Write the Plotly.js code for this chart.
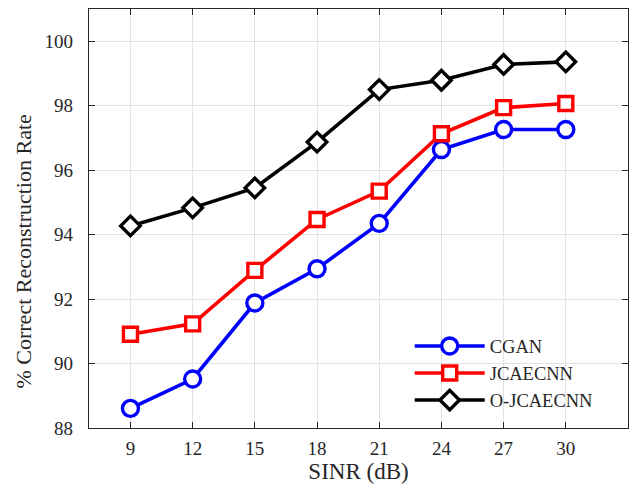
<!DOCTYPE html>
<html><head><meta charset="utf-8">
<script src="https://cdn.plot.ly/plotly-3.0.1.min.js"></script>
<style>body{margin:0;background:#fff}#c{width:634px;height:487px}</style>
</head><body><div id="c"></div>
<script>
const sinr = [9, 12, 15, 18, 21, 24, 27, 30];
const cgan = [88.61, 89.52, 91.88, 92.94, 94.35, 96.64, 97.26, 97.26];
const jcaecnn = [90.91, 91.23, 92.89, 94.47, 95.35, 97.13, 97.94, 98.07];
const ojcaecnn = [94.27, 94.83, 95.45, 96.87, 98.50, 98.79, 99.28, 99.36];
const seriesNames = ['CGAN', 'JCAECNN', 'O-JCAECNN'];
const xTicks = [9, 12, 15, 18, 21, 24, 27, 30];
const yTicks = [88, 90, 92, 94, 96, 98, 100];

const font = "Liberation Serif";
function tr(y, name, color, symbol, size) {
  return {x: sinr, y: y, name: name, type: 'scatter', mode: 'lines+markers',
    line: {color: color, width: 3.6},
    marker: {symbol: symbol, size: size, color: '#ffffff', line: {color: color, width: 3.4}}};
}
const data = [
  tr(cgan, seriesNames[0], '#0000ff', 'circle', 16),
  tr(jcaecnn, seriesNames[1], '#ff0000', 'square', 14),
  tr(ojcaecnn, seriesNames[2], '#000000', 'diamond', 15)
];
const axisCommon = {showline: true, linecolor: '#262626', linewidth: 1.2, mirror: 'ticks',
  ticks: 'inside', ticklen: 6, tickcolor: '#262626', showgrid: true, gridcolor: '#e3e3e3', gridwidth: 1,
  zeroline: false, tickfont: {family: font, size: 19, color: '#262626'}};
const layout = {
  width: 634, height: 487, paper_bgcolor: '#fff', plot_bgcolor: '#fff',
  font: {family: font},
  margin: {l: 89, r: 6, t: 9, b: 59},
  showlegend: true,
  legend: {x: 0.595, y: 0.24, xanchor: 'left', yanchor: 'top', bgcolor: 'rgba(255,255,255,0)',
    font: {family: font, size: 18.5, color: '#262626'}, itemwidth: 70, tracegroupgap: 0},
  xaxis: Object.assign({}, axisCommon, {range: [7, 33], tickvals: xTicks, ticktext: xTicks.map(String),
    ticklabelstandoff: 3,
    title: {text: 'SINR (dB)', font: {family: font, size: 23, color: '#262626'}, standoff: 3}}),
  yaxis: Object.assign({}, axisCommon, {range: [88, 101], tickvals: yTicks, ticktext: yTicks.map(String),
    ticklabelstandoff: 11}),
  annotations: [{text: '% Correct Reconstruction Rate', xref: 'paper', yref: 'paper',
    x: -0.1215, y: 0.42, xanchor: 'center', yanchor: 'middle', textangle: -90, showarrow: false,
    font: {family: font, size: 22, color: '#262626'}}]
};
Plotly.newPlot('c', data, layout, {displayModeBar: false, staticPlot: true});
</script></body></html>
